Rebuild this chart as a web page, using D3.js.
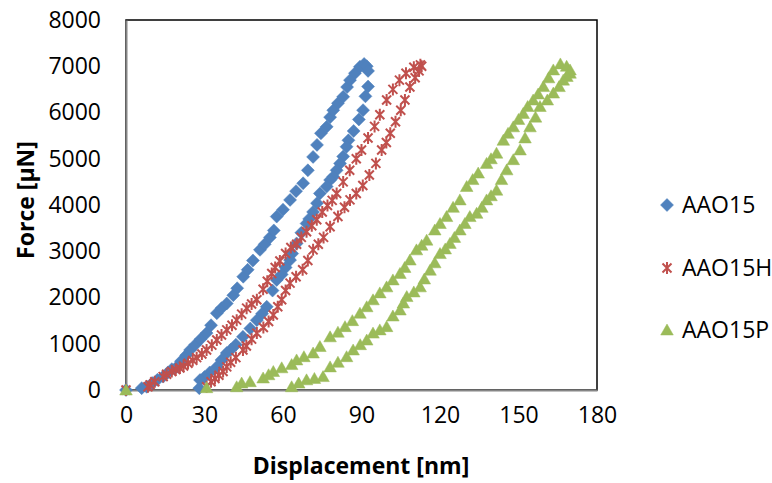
<!DOCTYPE html>
<html>
<head>
<meta charset="utf-8">
<title>Force vs Displacement</title>
<script src="https://d3js.org/d3.v7.min.js"></script>
<style>
  body { margin: 0; background: #fff; }
  text { font-family: "Open Sans", "Liberation Sans", sans-serif; }
</style>
</head>
<body>
<script>
// series data (loading branch, then unloading branch)
var aao15X = [0, 6, 7.9, 10, 12, 14.2, 16, 17.5, 19.4, 21, 23, 24.5, 26.5, 28.5, 30.8, 32.5, 34.7, 36.5, 38.5, 41, 42.5, 44.8, 46.5, 48.5, 51.2, 53, 55, 56.5, 57.6, 60, 62.7, 65, 67.7, 69.5, 71.5, 73, 74.5, 76.7, 78, 79.2, 81, 83, 84.5, 85.6, 87.5, 89.4, 91, 92,
              92.5, 92.5, 91.5, 90.6, 89, 87, 85, 84.3, 83, 81.8, 80.5, 79.2, 78, 76.7, 74.1, 73, 71.5, 70, 69, 67, 65.2, 63.5, 62.7, 61, 59.5, 57.6, 56, 53.8, 52, 50, 47.5, 44.7, 42, 40, 38.5, 36.5, 34.7, 32, 30, 28.3, 28];
var aao15Y = [0, 40, 70, 150, 220, 290, 380, 450, 500, 620, 750, 865, 980, 1100, 1230, 1400, 1660, 1770, 1870, 2050, 2200, 2450, 2600, 2800, 3030, 3150, 3300, 3450, 3750, 3900, 4110, 4300, 4470, 4750, 5040, 5300, 5550, 5690, 5900, 6050, 6200, 6340, 6550, 6700, 6850, 6990, 7050, 7000,
              6900, 6560, 6350, 6050, 5850, 5600, 5400, 5260, 5050, 4900, 4750, 4610, 4540, 4400, 4250, 4040, 3850, 3700, 3600, 3400, 3170, 2950, 2810, 2650, 2500, 2380, 2150, 1800, 1650, 1510, 1330, 1150, 980, 870, 800, 650, 500, 380, 280, 216, 40];

var aao15hX = [0, 8.4, 9.2, 11, 14.2, 15.5, 17.5, 19, 20.6, 22, 23.7, 25.5, 27, 29, 30.8, 32.8, 34.7, 36.5, 38.5, 40.5, 42.3, 44.2, 46.1, 48, 50, 52.4, 54, 55.7, 57, 58.8, 61, 63, 65.2, 67, 69, 71, 72.9, 75, 77, 78.8, 80.5, 83, 85.5, 88, 90, 92.5, 95, 97, 99.6, 102, 104.5, 107, 110, 112.5,
               113, 112, 110.5, 108.5, 106.6, 105, 103, 101, 99.5, 97.7, 95.5, 93, 90.5, 88, 85.6, 83.5, 81, 78, 75.5, 73.5, 71.5, 69.5, 67.5, 65, 62.7, 61, 59.5, 58, 56.3, 54.5, 52.5, 50, 48, 46, 44.7, 42, 40, 38.5, 37.1, 35.5, 34, 32.5, 30.8];
var aao15hY = [0, 70, 110, 180, 290, 340, 400, 440, 475, 520, 580, 640, 700, 780, 865, 970, 1080, 1190, 1300, 1400, 1510, 1640, 1770, 1860, 1950, 2180, 2350, 2520, 2650, 2790, 2950, 3080, 3150, 3300, 3420, 3550, 3680, 3850, 3990, 4100, 4250, 4500, 4750, 5000, 5190, 5450, 5700, 5950, 6270, 6500, 6700, 6850, 6980, 7030,
               7000, 6900, 6750, 6550, 6270, 6050, 5800, 5550, 5350, 5190, 4900, 4650, 4420, 4250, 4110, 3950, 3750, 3530, 3300, 3150, 3030, 2800, 2600, 2450, 2310, 2150, 1950, 1800, 1620, 1480, 1350, 1230, 1100, 950, 865, 700, 600, 500, 400, 320, 250, 180, 70];

var aao15pX = [0, 30.8, 42.3, 44.2, 47.4, 52.4, 54.5, 56.3, 59.5, 63.3, 65.2, 68, 71.5, 74.1, 78, 81, 83.7, 86.5, 89.4, 92, 94.4, 97, 99.6, 102, 104.7, 106.5, 108.5, 111, 113, 114.9, 118, 120, 122.5, 125, 127.6, 130.2, 132.5, 134.6, 137.8, 139.5, 141.6, 144.2, 146, 148, 150, 151.8, 153.5, 155.6, 157.5, 159.5, 161.5, 163.3, 166, 168.4,
               169.7, 169.7, 168.5, 167.1, 165.5, 163.3, 161, 158.2, 156.5, 154.4, 152.5, 150.6, 148, 145.5, 143.5, 141.6, 139.5, 137.8, 136, 134, 131.4, 129.5, 127.6, 125.5, 123.8, 122, 120, 118, 116.2, 114, 112.4, 110, 107.3, 106, 104.7, 102, 99.6, 97, 94.4, 92, 89.5, 86.8, 84.3, 81, 78, 75.3, 72, 69, 66, 63.3];
var aao15pY = [0, 50, 70, 150, 180, 260, 330, 400, 480, 550, 650, 720, 800, 940, 1150, 1250, 1370, 1500, 1660, 1800, 1950, 2100, 2230, 2380, 2520, 2650, 2810, 3030, 3130, 3240, 3460, 3600, 3750, 3950, 4110, 4400, 4550, 4690, 4900, 5000, 5120, 5400, 5550, 5690, 5850, 5980, 6130, 6270, 6400, 6560, 6750, 6920, 7050, 7000,
               6920, 6850, 6780, 6700, 6560, 6420, 6270, 6130, 5900, 5690, 5450, 5190, 4980, 4760, 4550, 4320, 4200, 4110, 3950, 3820, 3750, 3600, 3460, 3300, 3170, 3050, 2950, 2750, 2590, 2400, 2230, 2120, 2020, 1880, 1730, 1600, 1370, 1300, 1230, 1080, 980, 865, 720, 600, 500, 290, 250, 220, 150, 70];

var seriesNames = ["AAO15", "AAO15H", "AAO15P"];
var seriesColors = ["#4F81BD", "#C0504D", "#9BBB59"];
var xTicks = [0, 30, 60, 90, 120, 150, 180];
var yTicks = [0, 1000, 2000, 3000, 4000, 5000, 6000, 7000, 8000];

var W = 772, H = 483;
var pLeft = 126, pRight = 597, pTop = 20, pBottom = 390;
var fs = 23;

var svg = d3.select("body").append("svg")
  .attr("width", W)
  .attr("height", H);

var x = d3.scaleLinear().domain([0, 180]).range([pLeft, pRight]);
var y = d3.scaleLinear().domain([0, 8000]).range([pBottom, pTop]);

// plot area frame
svg.append("rect")
  .attr("x", pLeft).attr("y", pTop)
  .attr("width", pRight - pLeft).attr("height", pBottom - pTop)
  .attr("fill", "none").attr("stroke", "#000").attr("stroke-width", 1.5);

// axes (gray lines, no ticks)
var xAxis = svg.append("g").attr("transform", "translate(0," + pBottom + ")")
  .call(d3.axisBottom(x).tickValues(xTicks).tickSize(0).tickPadding(17));
var yAxis = svg.append("g").attr("transform", "translate(" + pLeft + ",0)")
  .call(d3.axisLeft(y).tickValues(yTicks).tickSize(0).tickPadding(25).tickFormat(d3.format("d")));

[xAxis, yAxis].forEach(function(a) {
  a.select(".domain").attr("stroke", "#868686").attr("stroke-width", 2);
  a.selectAll("text").attr("font-size", fs).attr("fill", "#000")
   .style("font-family", "'Open Sans', sans-serif");
});

// marker shapes
function markerPath(k) {
  if (k == 0) return "M0,-6.5L6.5,0L0,6.5L-6.5,0Z";
  if (k == 1) return "M-4.5,-4.5L4.5,4.5M-4.5,4.5L4.5,-4.5M0,-6L0,6";
  return "M0,-6L6.3,5L-6.3,5Z";
}

function drawSeries(xs, ys, k) {
  var pts = xs.map(function(d, i) { return [d, ys[i]]; });
  var g = svg.append("g");
  g.selectAll("path")
    .data(pts)
    .enter()
    .append("path")
    .attr("transform", function(d) { return "translate(" + x(d[0]) + "," + y(d[1]) + ")"; })
    .attr("d", markerPath(k))
    .attr("fill", k == 1 ? "none" : seriesColors[k])
    .attr("stroke", seriesColors[k])
    .attr("stroke-width", k == 1 ? 2 : 0.5);
}

drawSeries(aao15X, aao15Y, 0);
drawSeries(aao15hX, aao15hY, 1);
drawSeries(aao15pX, aao15pY, 2);

// axis titles
svg.append("text")
  .attr("x", 361).attr("y", 474)
  .attr("text-anchor", "middle")
  .attr("font-size", fs).attr("font-weight", "bold")
  .text("Displacement [nm]");

svg.append("text")
  .attr("transform", "translate(34,200) rotate(-90)")
  .attr("text-anchor", "middle")
  .attr("font-size", fs).attr("font-weight", "bold")
  .text("Force [µN]");

// legend
var legY = [205, 268, 330];
seriesNames.forEach(function(n, k) {
  svg.append("path")
    .attr("transform", "translate(667," + legY[k] + ")")
    .attr("d", markerPath(k))
    .attr("fill", k == 1 ? "none" : seriesColors[k])
    .attr("stroke", seriesColors[k])
    .attr("stroke-width", k == 1 ? 2 : 0.5);
  svg.append("text")
    .attr("x", 682).attr("y", legY[k])
    .attr("dy", "0.36em")
    .attr("font-size", fs)
    .text(n);
});
</script>
</body>
</html>
